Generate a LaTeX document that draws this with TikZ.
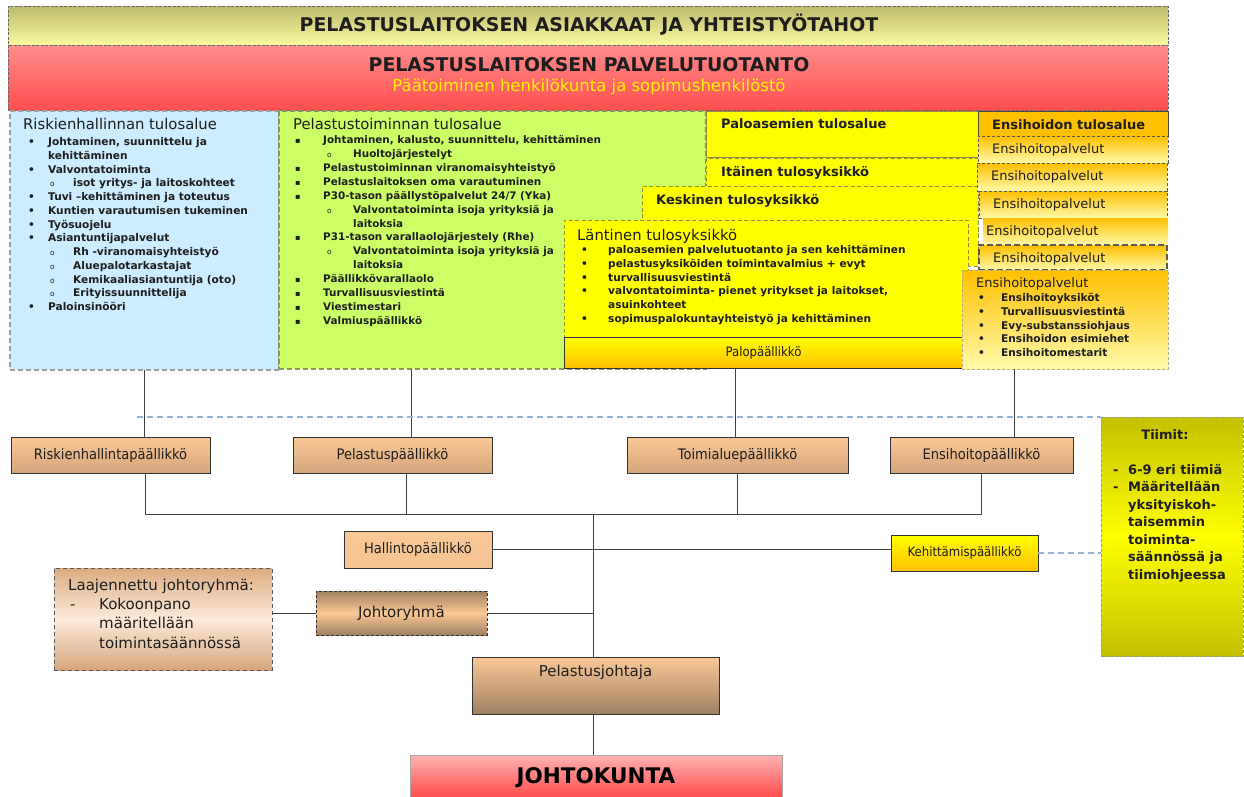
\documentclass[tikz,border=0pt]{standalone}
\usepackage{fontspec}
\setmainfont{DejaVu Sans}
\newfontfamily\tah[FakeStretch=0.9]{DejaVu Sans}
\usetikzlibrary{calc}
\definecolor{banT}{RGB}{190,186,108}
\definecolor{banB}{RGB}{250,248,160}
\definecolor{redT}{RGB}{255,140,140}
\definecolor{redB}{RGB}{255,78,78}
\definecolor{blueF}{RGB}{204,236,255}
\definecolor{greenF}{RGB}{204,255,102}
\definecolor{greenD}{RGB}{140,150,90}
\definecolor{yelF}{RGB}{255,255,0}
\definecolor{yelD}{RGB}{150,140,60}
\definecolor{oraF}{RGB}{255,192,0}
\definecolor{paleY}{RGB}{255,250,170}
\definecolor{peachT}{RGB}{250,200,150}
\definecolor{peachB}{RGB}{212,166,124}
\definecolor{tanD}{RGB}{160,128,98}
\definecolor{laajM}{RGB}{253,234,218}
\definecolor{olvF}{RGB}{196,192,0}
\definecolor{jkT}{RGB}{255,178,178}
\definecolor{jkB}{RGB}{255,34,34}
\definecolor{bdashC}{RGB}{149,179,215}
\definecolor{txtD}{RGB}{30,30,30}
\newcommand\xbul[3]{\makebox[#2pt][l]{\hspace*{#1pt}#3}}
\newcommand\xsub{{\mdseries\fontsize{7.5}{7.5}\selectfont o}}
\newcommand\xsq{{\fontsize{8}{8}\selectfont ▪}}
\begin{document}
\begin{tikzpicture}[x=1pt,y=-1pt,
  box/.style={inner sep=0pt, outer sep=0pt, anchor=north west},
  conn/.style={draw=black!75, line width=1pt},
  bdash/.style={draw=bdashC, line width=1.5pt, dash pattern=on 6pt off 4pt},
  mgr/.style={box, draw=black!80, line width=1pt, top color=peachT, bottom color=peachB, text=txtD, font=\tah\fontsize{14.5}{16}\selectfont},
  ydash/.style={draw=yelD, line width=1pt, dash pattern=on 4pt off 2.5pt},
  edash/.style={draw=black!65, line width=1pt, dash pattern=on 3pt off 2pt, top color=oraF, bottom color=paleY},
  ttl/.style={inner sep=0pt, anchor=base west, text=txtD, font=\fontsize{14.8}{16}\selectfont},
  ttb/.style={inner sep=0pt, anchor=base west, text=txtD, font=\bfseries\fontsize{13}{15}\selectfont},
  ett/.style={inner sep=0pt, anchor=base west, text=txtD, font=\fontsize{13}{15}\selectfont},
  lst/.style={inner sep=0pt, anchor=base west, align=left, text=txtD, font=\bfseries\fontsize{10.6}{13.8}\selectfont}
]
\useasboundingbox (0,0) rectangle (1244,796);
\fill[white] (0,0) rectangle (1244,796);

\coordinate (dl) at (137,417);
\coordinate (bus) at (0,514);
\coordinate (tr) at (593,514);

% ---------- banners ----------
\node[box, draw=black!60, dash pattern=on 3pt off 1.5pt, top color=banT, bottom color=banB, minimum width=1160, minimum height=39] (asiak) at (8,6) {};
\node[font=\bfseries\fontsize{18.9}{20}\selectfont, text=txtD] (asiakt) at (589,25) {PELASTUSLAITOKSEN ASIAKKAAT JA YHTEISTYÖTAHOT};
\node[box, draw=black!60, dash pattern=on 3pt off 1.5pt, top color=redT, bottom color=redB, minimum width=1160, minimum height=65] (palv) at (8,45) {};
\node[font=\bfseries\fontsize{18.9}{20}\selectfont, text=txtD] (palvt) at (589,65) {PELASTUSLAITOKSEN PALVELUTUOTANTO};
\node[font=\fontsize{16.5}{18}\selectfont, text=yellow] (palvs) at (589,87) {Päätoiminen henkilökunta ja sopimushenkilöstö};

% ---------- tulosalue boxes ----------
\node[box, fill=blueF, draw=gray!75, line width=1.2pt, dash pattern=on 5pt off 3pt, minimum width=269, minimum height=259] (risk) at (10,111) {};
\node[box, fill=greenF, draw=greenD, line width=1.2pt, dash pattern=on 5pt off 3pt, minimum width=427, minimum height=258] (pel) at (279,111) {};
\node[box, fill=yelF, draw=yelD, line width=1pt, minimum width=272, minimum height=46] (paloa) at (706,111) {};
\node[box, fill=yelF, ydash, minimum width=272, minimum height=80] (itä) at (706,158) {};
\node[box, fill=yelF, ydash, minimum width=336, minimum height=80] (kesk) at (642,186) {};
\node[box, fill=yelF, ydash, minimum width=404, minimum height=117] (länt) at (564,220) {};
\node[box, draw=black!80, line width=1pt, top color=yelF, bottom color=oraF, minimum width=399, minimum height=31, text=txtD, font=\tah\fontsize{13}{15}\selectfont] (palop) at (564,337) {Palopäällikkö};

\node[box, fill=oraF, draw=black!70, line width=1pt, minimum width=190, minimum height=25] (enst) at (978,111) {};
\node[box, edash, minimum width=190, minimum height=27] (e1) at (978,136) {};
\node[box, edash, minimum width=190, minimum height=28] (e2) at (977,163) {};
\node[box, edash, minimum width=188, minimum height=27] (e3) at (979,191) {};
\node[box, edash, draw=none, minimum width=185, minimum height=27] (e4) at (983,218) {};
\node[box, edash, dash pattern=on 6pt off 3pt, line width=1.3pt, minimum width=188, minimum height=25] (e5) at (979,245) {};
\node[box, draw=yelD!70, line width=1pt, dash pattern=on 3pt off 2pt, top color=oraF, bottom color=paleY, minimum width=206, minimum height=99] (ensm) at (962,270) {};

% ---------- titles ----------
\node[ttl] (riskt) at (23,129.5) {Riskienhallinnan tulosalue};
\node[ttl] (pelt) at (293,129.5) {Pelastustoiminnan tulosalue};
\node[ttb] (paloat) at (721,128.5) {Paloasemien tulosalue};
\node[ttb] (ität) at (721,176.5) {Itäinen tulosyksikkö};
\node[ttb] (keskt) at (656,204.5) {Keskinen tulosyksikkö};
\node[ttl] (läntt) at (577,240.5) {Läntinen tulosyksikkö};
\node[ttb] (enstt) at (992,129.5) {Ensihoidon tulosalue};
\node[ett] (e1t) at (992,153.5) {Ensihoitopalvelut};
\node[ett] (e2t) at (991,180.5) {Ensihoitopalvelut};
\node[ett] (e3t) at (993,208.5) {Ensihoitopalvelut};
\node[ett] (e4t) at (986,235.5) {Ensihoitopalvelut};
\node[ett] (e5t) at (993,262.5) {Ensihoitopalvelut};
\node[ett] (ensmt) at (976,287.5) {Ensihoitopalvelut};

% ---------- lists (anchored at the baseline of their last line) ----------
\node[lst, font=\bfseries\fontsize{10.6}{13.75}\selectfont] (riskl) at (23,310.5) {%
\xbul{5}{25}{\textbullet}Johtaminen, suunnittelu ja\\
\hspace*{25pt}kehittäminen\\
\xbul{5}{25}{\textbullet}Valvontatoiminta\\
\xbul{27}{50}{\xsub}isot yritys- ja laitoskohteet\\
\xbul{5}{25}{\textbullet}Tuvi –kehittäminen ja toteutus\\
\xbul{5}{25}{\textbullet}Kuntien varautumisen tukeminen\\
\xbul{5}{25}{\textbullet}Työsuojelu\\
\xbul{5}{25}{\textbullet}Asiantuntijapalvelut\\
\xbul{27}{50}{\xsub}Rh -viranomaisyhteistyö\\
\xbul{27}{50}{\xsub}Aluepalotarkastajat\\
\xbul{27}{50}{\xsub}Kemikaaliasiantuntija (oto)\\
\xbul{27}{50}{\xsub}Erityissuunnittelija\\
\xbul{5}{25}{\textbullet}Paloinsinööri};

\node[lst, font=\bfseries\fontsize{10.4}{13.92}\selectfont] (pell) at (293,324.5) {%
\xbul{2}{30}{\xsq}Johtaminen, kalusto, suunnittelu, kehittäminen\\
\xbul{34}{60}{\xsub}Huoltojärjestelyt\\
\xbul{2}{30}{\xsq}Pelastustoiminnan viranomaisyhteistyö\\
\xbul{2}{30}{\xsq}Pelastuslaitoksen oma varautuminen\\
\xbul{2}{30}{\xsq}P30-tason päällystöpalvelut 24/7 (Yka)\\
\xbul{34}{60}{\xsub}Valvontatoiminta isoja yrityksiä ja\\
\hspace*{60pt}laitoksia\\
\xbul{2}{30}{\xsq}P31-tason varallaolojärjestely (Rhe)\\
\xbul{34}{60}{\xsub}Valvontatoiminta isoja yrityksiä ja\\
\hspace*{60pt}laitoksia\\
\xbul{2}{30}{\xsq}Päällikkövarallaolo\\
\xbul{2}{30}{\xsq}Turvallisuusviestintä\\
\xbul{2}{30}{\xsq}Viestimestari\\
\xbul{2}{30}{\xsq}Valmiuspäällikkö};

\node[lst] (läntl) at (577,322.5) {%
\xbul{4}{31}{\textbullet}paloasemien palvelutuotanto ja sen kehittäminen\\
\xbul{4}{31}{\textbullet}pelastusyksiköiden toimintavalmius + evyt\\
\xbul{4}{31}{\textbullet}turvallisuusviestintä\\
\xbul{4}{31}{\textbullet}valvontatoiminta- pienet yritykset ja laitokset,\\
\hspace*{31pt}asuinkohteet\\
\xbul{4}{31}{\textbullet}sopimuspalokuntayhteistyö ja kehittäminen};

\node[lst, font=\bfseries\fontsize{10.6}{13.75}\selectfont] (ensl) at (976,356.5) {%
\xbul{2}{25}{\textbullet}Ensihoitoyksiköt\\
\xbul{2}{25}{\textbullet}Turvallisuusviestintä\\
\xbul{2}{25}{\textbullet}Evy-substanssiohjaus\\
\xbul{2}{25}{\textbullet}Ensihoidon esimiehet\\
\xbul{2}{25}{\textbullet}Ensihoitomestarit};

% ---------- lower boxes ----------
\node[mgr, minimum width=199, minimum height=36] (rhp) at (11,437) {Riskienhallintapäällikkö};
\node[mgr, minimum width=199, minimum height=36] (pp) at (293,437) {Pelastuspäällikkö};
\node[mgr, minimum width=221, minimum height=36] (tap) at (627,437) {Toimialuepäällikkö};
\node[mgr, minimum width=183, minimum height=36] (ehp) at (890,437) {Ensihoitopäällikkö};
\node[mgr, top color=peachT, bottom color=peachT!85!peachB, minimum width=148, minimum height=37] (hp) at (344,531) {Hallintopäällikkö};
\node[mgr, top color=yelF, bottom color=oraF, font=\tah\fontsize{13}{15}\selectfont, minimum width=147, minimum height=36] (kp) at (891,535) {Kehittämispäällikkö};
\node[box, draw=black!65, line width=1pt, dash pattern=on 4pt off 3pt, top color=peachB!80!peachT, bottom color=peachB, middle color=laajM, minimum width=218, minimum height=102] (laaj) at (54,568) {};
\node[box, draw=black!80, line width=1pt, dash pattern=on 3pt off 2pt, top color=tanD, bottom color=tanD, middle color=peachT, minimum width=171, minimum height=44, text=txtD, font=\fontsize{15}{17}\selectfont] (johto) at (316,591) {Johtoryhmä};
\node[box, draw=black!80, line width=1pt, top color=peachT, bottom color=tanD, minimum width=247, minimum height=57] (pj) at (472,657) {};
\node[box, draw=gray!70, line width=1pt, top color=jkT, bottom color=jkB, minimum width=372, minimum height=60] (jk) at (410,755) {};
\node[box, draw=gray!80, line width=1pt, dash pattern=on 3pt off 2pt, top color=olvF, bottom color=olvF, middle color=yelF, minimum width=142, minimum height=239] (tiimit) at (1101,417) {};

\node[inner sep=0pt, anchor=base west, align=left, text=txtD, font=\fontsize{15}{19.3}\selectfont] (laajt) at (68,648) {%
Laajennettu johtoryhmä:\\
\xbul{2}{31}{-}Kokoonpano\\
\hspace*{31pt}määritellään\\
\hspace*{31pt}toimintasäännössä};
\node[inner sep=0pt, text=txtD, font=\fontsize{15}{17}\selectfont] (pjt) at (595.5,672) {Pelastusjohtaja};
\node[inner sep=0pt, text=black, font=\bfseries\fontsize{21.5}{24}\selectfont] (jkt) at (596,778) {JOHTOKUNTA};
\node[inner sep=0pt, anchor=base, text=txtD, font=\bfseries\fontsize{13}{15}\selectfont] (tiimitt) at (1165,439) {Tiimit:};
\node[inner sep=0pt, anchor=base west, align=left, text=txtD, font=\bfseries\fontsize{13}{17.5}\selectfont] (tiimitl) at (1113,579) {%
\xbul{0}{15}{-}6-9 eri tiimiä\\
\xbul{0}{15}{-}Määritellään\\
\hspace*{15pt}yksityiskoh-\\
\hspace*{15pt}taisemmin\\
\hspace*{15pt}toiminta-\\
\hspace*{15pt}säännössä ja\\
\hspace*{15pt}tiimiohjeessa};

% ---------- connectors ----------
\coordinate (c2) at ($(pel.south west)+(132,0)$);
\coordinate (c3) at ($(palop.south west)+(171,0)$);
\coordinate (c4) at ($(ensm.south west)+(52,0)$);
\coordinate (b1) at ($(rhp.south west)+(134,0)$);
\coordinate (b2) at ($(pp.south west)+(113,0)$);
\draw[conn] (risk.south) -- (risk.south |- rhp.north);
\draw[conn] (c2) -- (c2 |- pp.north);
\draw[conn] (c3) -- (c3 |- tap.north);
\draw[conn] (c4) -- (c4 |- ehp.north);
\draw[conn] (b1) -- (b1 |- bus) -- (ehp.south |- bus) -- (ehp.south);
\draw[conn] (b2) -- (b2 |- bus);
\draw[conn] (tap.south) -- (tap.south |- bus);
\draw[conn] (tr) -- (tr |- pj.north);
\draw[conn] (tr |- pj.south) -- (tr |- jk.north);
\draw[conn] (hp.east) -- (hp.east -| kp.west);
\draw[conn] (johto.east) -- (johto.east -| tr);
\draw[conn] (johto.west -| laaj.east) -- (johto.west);
\draw[bdash] (dl) -- (dl -| tiimit.west);
\draw[bdash] (kp.east) -- (kp.east -| tiimit.west);
\end{tikzpicture}
\end{document}
